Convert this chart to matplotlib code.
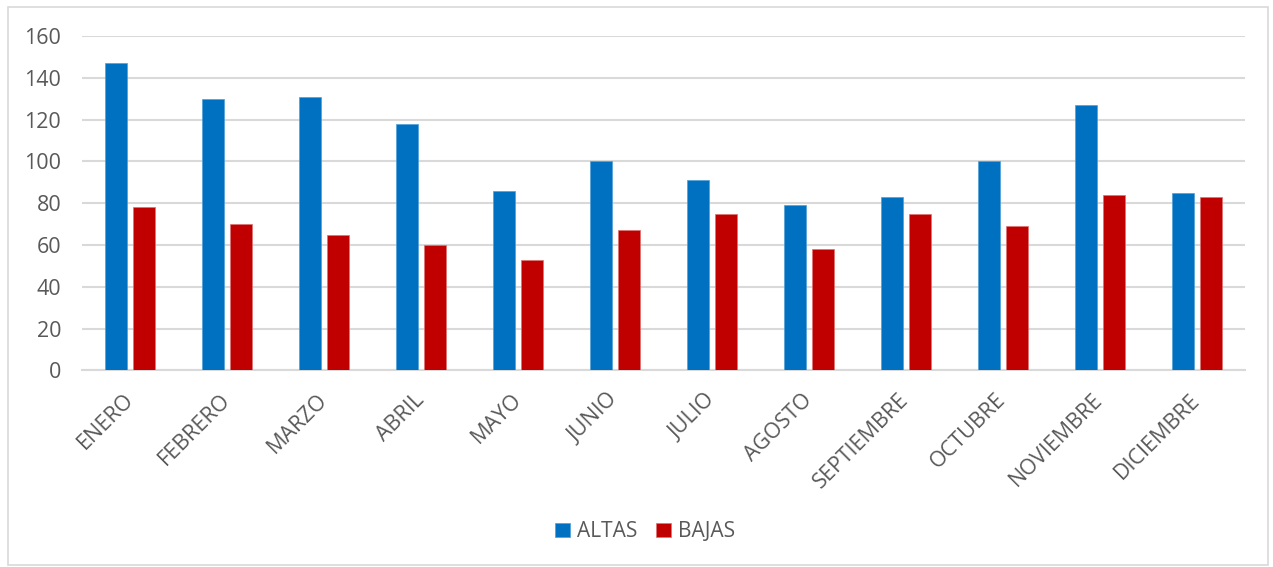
import matplotlib.pyplot as plt
import numpy as np
from matplotlib.patches import Rectangle

plt.rcParams["font.family"] = ["Open Sans", "DejaVu Sans"]

meses = ["ENERO", "FEBRERO", "MARZO", "ABRIL", "MAYO", "JUNIO", "JULIO",
         "AGOSTO", "SEPTIEMBRE", "OCTUBRE", "NOVIEMBRE", "DICIEMBRE"]
altas = [147, 130, 131, 118, 86, 100, 91, 79, 83, 100, 127, 85]
bajas = [78, 70, 65, 60, 53, 67, 75, 58, 75, 69, 84, 83]
yticks = [0, 20, 40, 60, 80, 100, 120, 140, 160]

gris = "#595959"
fig = plt.figure(figsize=(12.73, 5.67), dpi=100, facecolor="w")
ax = fig.add_axes([0.0644, 0.3466, 0.9136, 0.5899])

x = np.arange(len(meses))
w = 0.227
off = w / 2 + 0.031
ax.bar(x - off, altas, w, color="#0070C0", edgecolor="#4f9fd8", linewidth=0.5, label="ALTAS", zorder=3)
ax.bar(x + off, bajas, w, color="#C00000", edgecolor="#e07070", linewidth=0.5, label="BAJAS", zorder=3)

ax.set_xlim(-0.5, len(meses) - 0.5)
ax.set_ylim(0, 160)
ax.set_yticks(yticks)
ax.yaxis.grid(True, color="#D9D9D9", linewidth=1.5, zorder=0)
ax.set_axisbelow(True)
for s in ["top", "right", "left"]:
    ax.spines[s].set_visible(False)
ax.spines["bottom"].set_color("#D9D9D9")
ax.spines["bottom"].set_linewidth(1.5)
ax.tick_params(axis="both", length=0, colors=gris, labelsize=15.5)
ax.tick_params(axis="y", pad=15)
ax.set_xticks(x)
ax.set_xticklabels(meses, rotation=45, ha="right", va="center", rotation_mode="anchor")
ax.tick_params(axis="x", pad=19)

leg = fig.legend(loc="center", bbox_to_anchor=(0.507, 0.062), ncol=2, frameon=False,
                 fontsize=15, handlelength=0.7, handleheight=0.7, handletextpad=0.35,
                 columnspacing=0.9)
for t in leg.get_texts():
    t.set_color(gris)

fig.patches.append(Rectangle((0.006, 0.003), 0.99, 0.984, transform=fig.transFigure,
                             fill=False, edgecolor="#D9D9D9", linewidth=1.2))

fig.savefig("out.png", dpi=100)
